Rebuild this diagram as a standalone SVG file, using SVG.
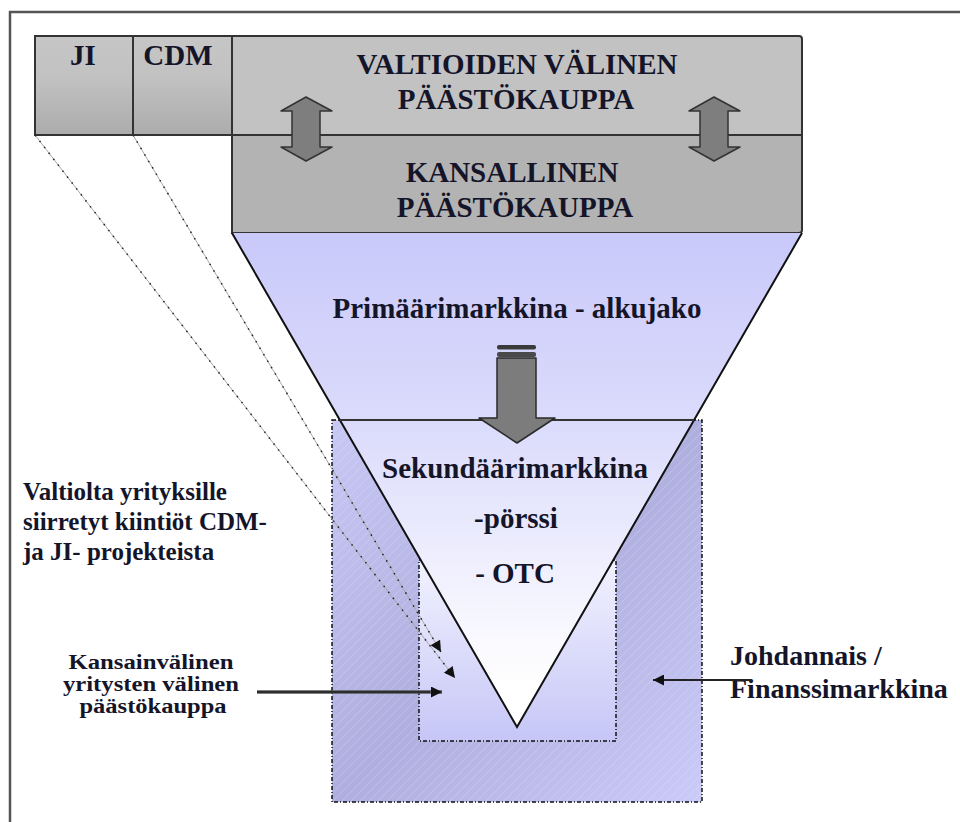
<svg xmlns="http://www.w3.org/2000/svg" width="960" height="822" viewBox="0 0 960 822">
<style>
.t{font-family:"Liberation Serif","Times New Roman",serif;font-weight:bold;fill:#15152a}
.big{font-size:29px}
.mid{font-size:25px}
.rt{font-size:28px}
.sm{font-size:20px}
.box{stroke:#333;stroke-width:2}
.dot{fill:none;stroke:#111;stroke-width:1.5;stroke-dasharray:4 2 1 2}
.dbl{fill:#7e7e7e;stroke:#333;stroke-width:1.5;stroke-linejoin:round}
.lg{stroke:#a8a8a8;stroke-width:1;fill:none}
.ld{stroke:#222;stroke-width:1.5;fill:none;stroke-dasharray:1.5 6}
</style>
<defs>
<linearGradient id="gTop" x1="0" y1="0" x2="0" y2="1">
<stop offset="0" stop-color="#c6c6c6"/><stop offset="0.4" stop-color="#c2c2c2"/><stop offset="1" stop-color="#acacac"/>
</linearGradient>
<linearGradient id="gFun" gradientUnits="userSpaceOnUse" x1="0" y1="233" x2="0" y2="727">
<stop offset="0" stop-color="#c9c9fa"/><stop offset="0.4" stop-color="#dcdcfc"/><stop offset="0.7" stop-color="#f1f1fe"/><stop offset="0.92" stop-color="#ffffff"/>
</linearGradient>
<linearGradient id="gOut" x1="0" y1="0" x2="1" y2="1">
<stop offset="0" stop-color="#c8c8f5"/><stop offset="0.5" stop-color="#afafdf"/><stop offset="1" stop-color="#cbcbf9"/>
</linearGradient>
<linearGradient id="gIn" x1="0" y1="0" x2="0" y2="1">
<stop offset="0" stop-color="#f2f2ff"/><stop offset="1" stop-color="#c6c6f7"/>
</linearGradient>
<pattern id="hatch" width="9" height="9" patternUnits="userSpaceOnUse">
<path d="M0,9 L9,0" stroke="#ffffff" stroke-opacity="0.18" stroke-width="1"/>
</pattern>
<marker id="ah" viewBox="0 0 10 10" refX="10" refY="5" markerWidth="15" markerHeight="11" markerUnits="userSpaceOnUse" orient="auto">
<path d="M0,0 L10,5 L0,10 Z" fill="#111"/>
</marker>
</defs>

<path d="M10,822 V12 H960" fill="none" stroke="#555" stroke-width="2.5"/>

<g id="ji">
<rect x="35" y="36" width="98" height="99" fill="url(#gTop)" class="box"/>
<text x="83" y="65" text-anchor="middle" class="t big">JI</text>
</g>
<g id="cdm">
<rect x="133" y="36" width="99" height="99" fill="url(#gTop)" class="box"/>
<text x="178" y="65" text-anchor="middle" class="t big">CDM</text>
</g>
<g id="valtioiden">
<path d="M232,36 H799 Q802,36 802,39 V135 H232 Z" fill="#c2c2c2" class="box"/>
<text x="517" y="74" text-anchor="middle" class="t big">VALTIOIDEN VÄLINEN</text>
<text x="516" y="109" text-anchor="middle" class="t big">PÄÄSTÖKAUPPA</text>
</g>
<g id="kansallinen">
<path d="M232,135 H802 V230 Q802,233 799,233 H232 Z" fill="#b3b3b3" class="box"/>
<text x="512" y="182" text-anchor="middle" class="t big">KANSALLINEN</text>
<text x="515" y="217" text-anchor="middle" class="t big">PÄÄSTÖKAUPPA</text>
</g>

<g id="derivative-market">
<rect x="332" y="420" width="370" height="382" fill="url(#gOut)"/>
<rect x="332" y="420" width="370" height="382" fill="url(#hatch)"/>
<rect x="332" y="420" width="370" height="382" class="dot"/>
</g>
<g id="international-market">
<rect x="419" y="560" width="197" height="181" fill="url(#gIn)"/>
<rect x="419" y="560" width="197" height="181" class="dot"/>
</g>

<g id="funnel">
<polygon points="232,233 802,233 517,727" fill="url(#gFun)"/>
<polyline points="232,233 517,727 802,233" fill="none" stroke="#111" stroke-width="2"/>
<line x1="340" y1="420" x2="694" y2="420" stroke="#333" stroke-width="2"/>
<text x="517" y="318" text-anchor="middle" class="t big">Primäärimarkkina - alkujako</text>
<text x="515" y="478" text-anchor="middle" class="t big">Sekundäärimarkkina</text>
<text x="516" y="528" text-anchor="middle" class="t big">-pörssi</text>
<text x="515" y="583" text-anchor="middle" class="t big">- OTC</text>
</g>

<g id="labels">
<text class="t mid"><tspan x="23" y="500">Valtiolta yrityksille</tspan><tspan x="23" y="530">siirretyt kiintiöt CDM-</tspan><tspan x="23" y="560">ja JI- projekteista</tspan></text>
<text class="t sm" text-anchor="middle"><tspan x="151" y="669" textLength="165" lengthAdjust="spacingAndGlyphs">Kansainvälinen</tspan><tspan x="151" y="691" textLength="176" lengthAdjust="spacingAndGlyphs">yritysten välinen</tspan><tspan x="153" y="713" textLength="147" lengthAdjust="spacingAndGlyphs">päästökauppa</tspan></text>
<text class="t rt"><tspan x="730" y="665">Johdannais /</tspan><tspan x="730" y="698">Finanssimarkkina</tspan></text>
</g>

<g id="connectors">
<polygon class="dbl" points="306,97 332,111 320,111 320,147 332,147 306,161 281,147 292,147 292,111 281,111"/>
<polygon class="dbl" points="714,97 740,111 728,111 728,147 740,147 714,161 689,147 700,147 700,111 689,111"/>
<g id="down-arrow">
<rect x="497" y="345" width="39" height="4.5" rx="2" fill="#3a3a3a"/>
<rect x="497" y="352" width="39" height="5" rx="2" fill="#4a4a4a"/>
<polygon points="497,358 536,358 536,418 555,418 517,443 479,418 497,418" fill="#7c7c7c" stroke="#2a2a2a" stroke-width="1.5" stroke-linejoin="round"/>
</g>
<line x1="35" y1="135" x2="455" y2="678" class="lg"/>
<line x1="35" y1="135" x2="455" y2="678" class="ld" marker-end="url(#ah)"/>
<line x1="133" y1="135" x2="441" y2="652" class="lg"/>
<line x1="133" y1="135" x2="441" y2="652" class="ld" marker-end="url(#ah)"/>
<line x1="257" y1="692" x2="442" y2="692" stroke="#555" stroke-width="3.5" marker-end="url(#ah)"/>
<line x1="257" y1="692" x2="430" y2="692" stroke="#222" stroke-width="1.5"/>
<line x1="752" y1="680" x2="653" y2="680" stroke="#222" stroke-width="2" marker-end="url(#ah)"/>
</g>
</svg>
